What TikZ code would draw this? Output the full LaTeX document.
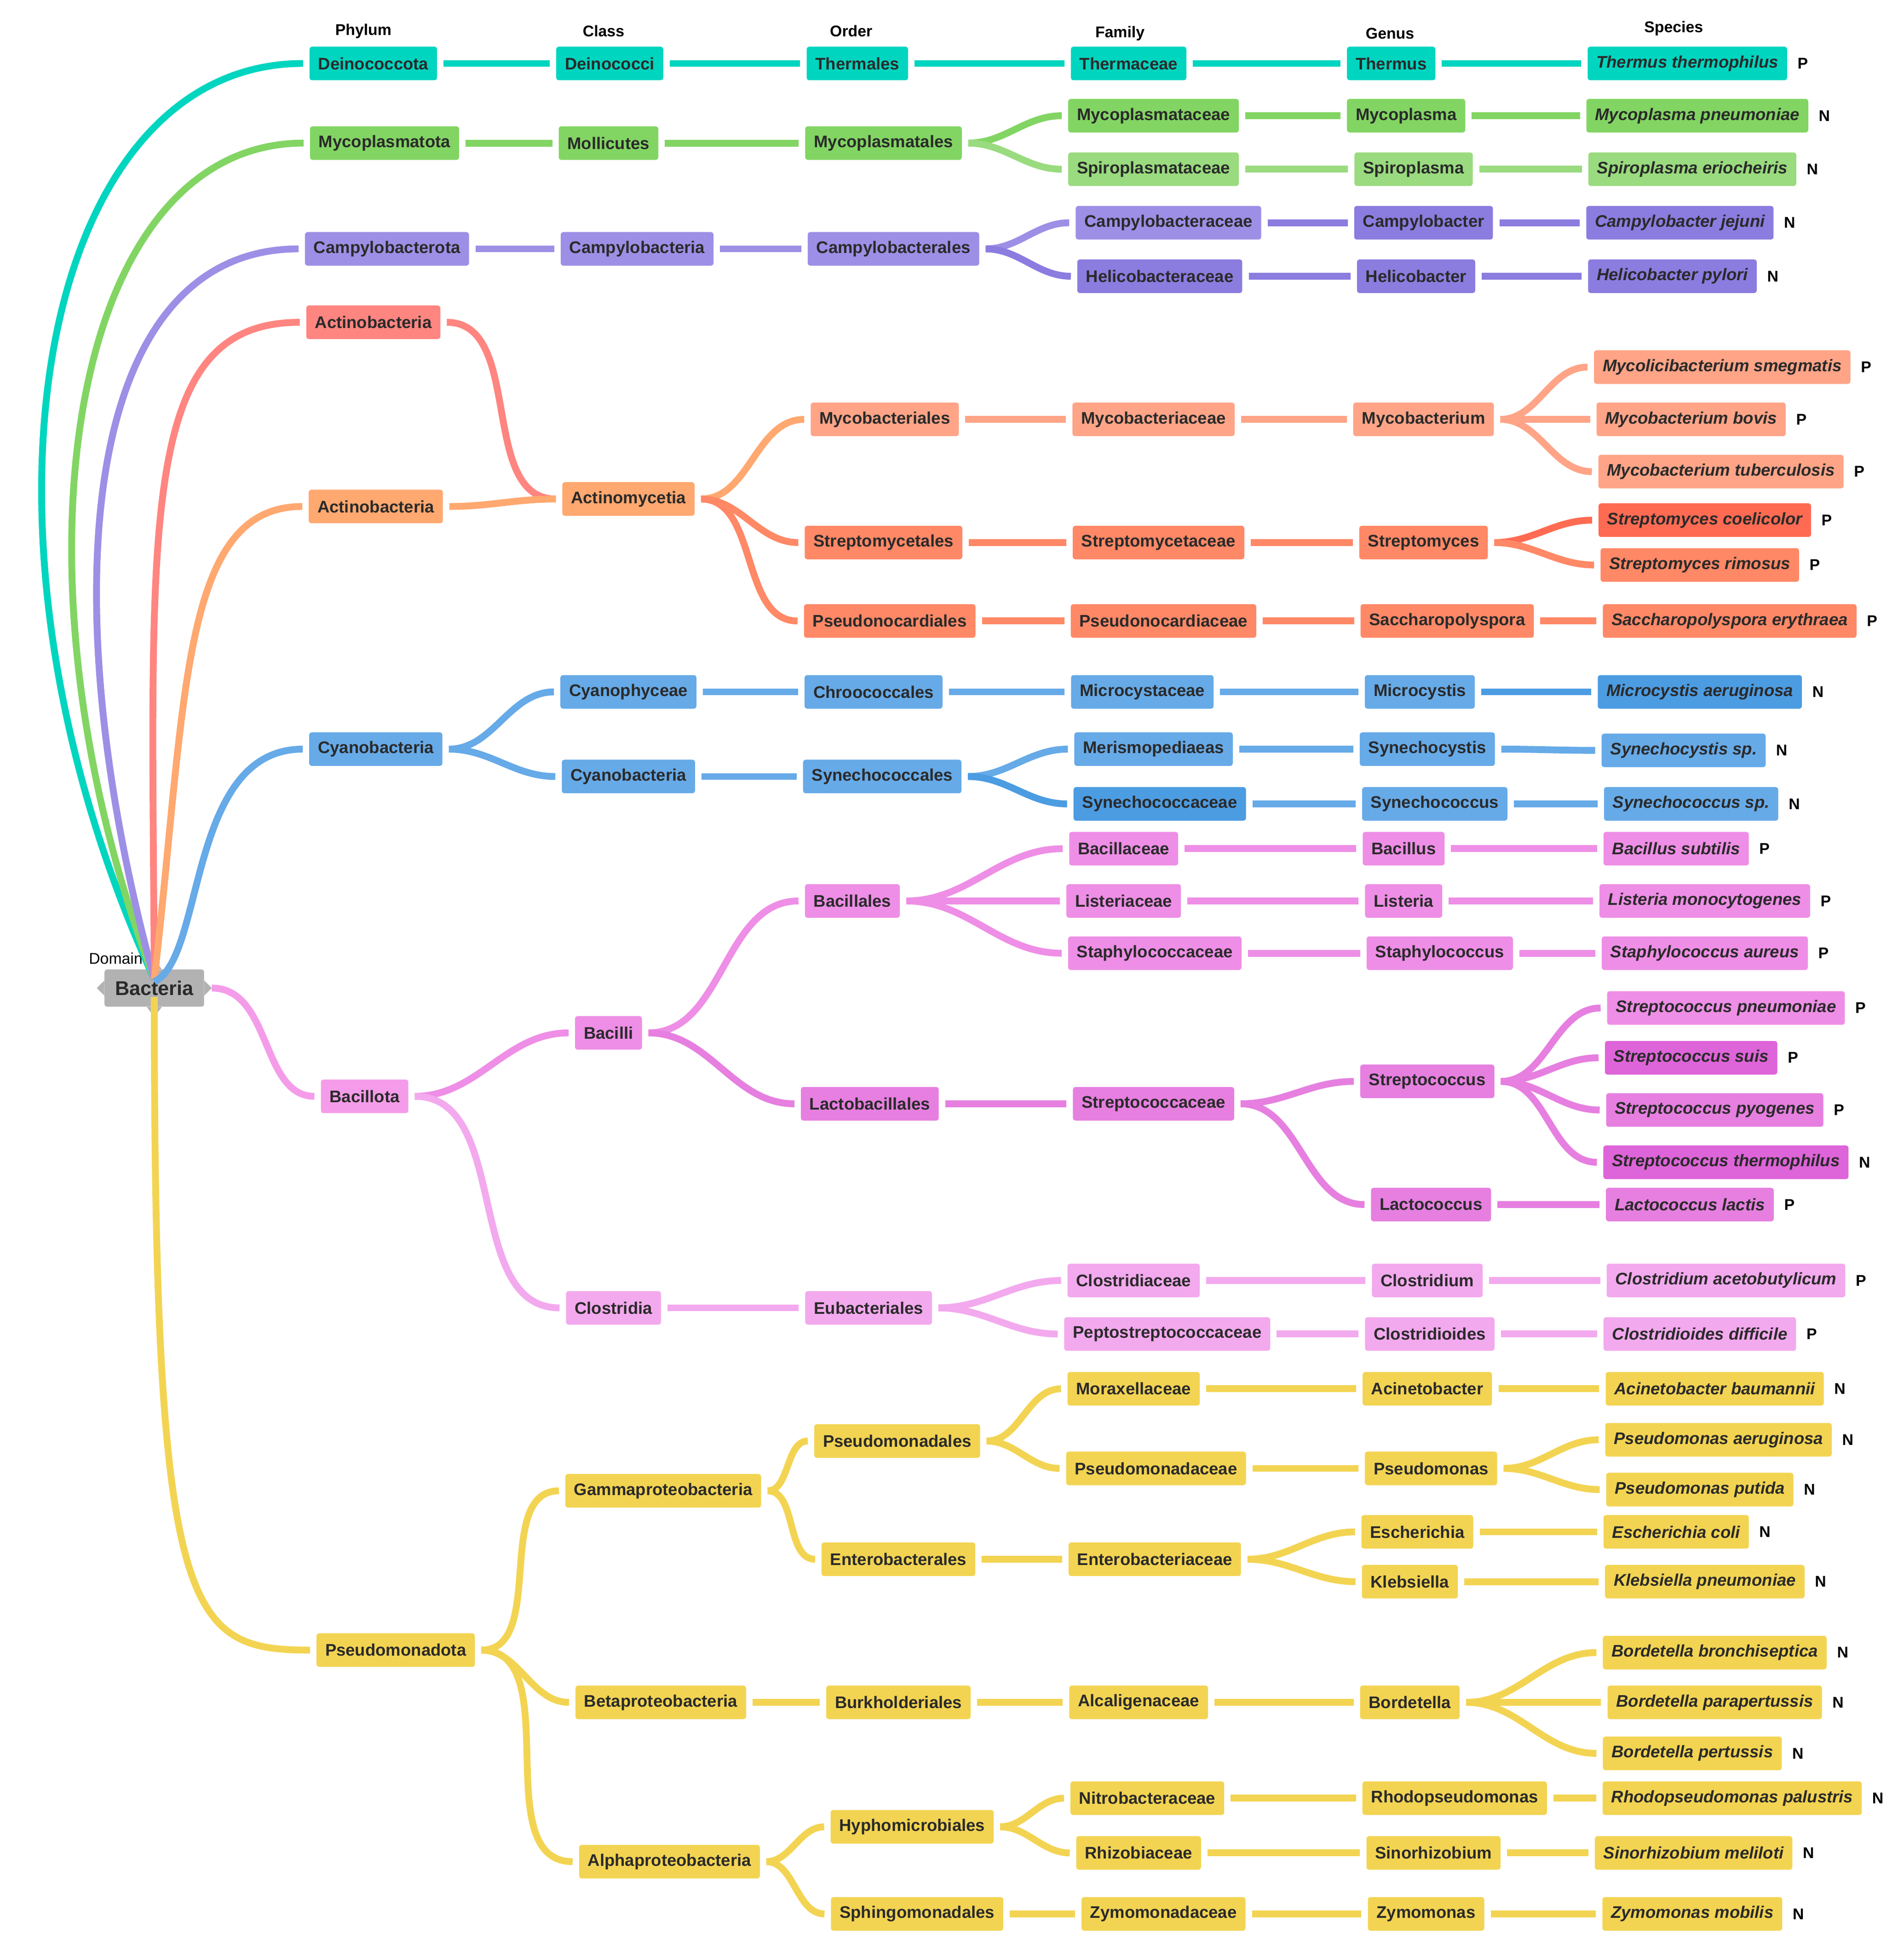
\documentclass[tikz,border=0pt]{standalone}
\usepackage{fontspec}
\setmainfont{Liberation Sans}
\begin{document}
\definecolor{teal}{HTML}{00D5C0}\definecolor{grn}{HTML}{82D563}\definecolor{grn2}{HTML}{99DB7E}
\definecolor{pur}{HTML}{9D8FE6}\definecolor{pur2}{HTML}{8B7CE0}\definecolor{red}{HTML}{FF8580}
\definecolor{org}{HTML}{FFA870}\definecolor{sal}{HTML}{FFA487}\definecolor{str}{HTML}{FF8866}
\definecolor{str2}{HTML}{FF6B52}\definecolor{blu}{HTML}{66AAE8}\definecolor{blu2}{HTML}{4C9CE2}
\definecolor{pnk}{HTML}{F49CE9}\definecolor{pnk2}{HTML}{EE8EE6}\definecolor{pnk3}{HTML}{E67FE0}
\definecolor{pnk4}{HTML}{DE64D9}\definecolor{pnk5}{HTML}{F3A9EE}\definecolor{yel}{HTML}{F3D452}
\definecolor{txt}{HTML}{2A2A2A}
\begin{tikzpicture}[x=1pt,y=-1pt,
 box/.style={rounded corners=2pt,inner xsep=7pt,inner ysep=0pt,minimum height=27pt,font=\fontsize{13.5}{15}\selectfont\bfseries,text=txt},
 sp/.style={box,font=\fontsize{13.5}{15}\selectfont\bfseries\itshape},
 hd/.style={font=\fontsize{12.5}{14}\selectfont\bfseries},
 lab/.style={anchor=west,font=\fontsize{12.5}{14}\selectfont\bfseries,inner sep=0pt,xshift=8pt},
 conn/.style={line width=5.5pt,shorten <=5pt,shorten >=5pt}]
\useasboundingbox (0,0) rectangle (1530,1563);
\fill[white] (0,0) rectangle (1530,1563);
\newcommand\lk[3]{\draw[conn,#1] (#2.east) to[out=0,in=180] (#3.west);}
\newcommand\sq[5]{\node[sp,fill=#1] (#2) at (#3) {#4}; \node[lab] at (#2.east) {#5};}
% headers
\node[hd] (h1) at (292,25) {Phylum};\node[hd] (h2) at (485,25) {Class};\node[hd] (h3) at (684,25) {Order};
\node[hd] (h4) at (900,27) {Family};\node[hd] (h5) at (1117,27) {Genus};\node[hd] (h6) at (1345,23) {Species};
\node[hd,font=\fontsize{12.5}{14}\selectfont] (h0) at (93,770) {Domain};
% Bacteria
\node[box,fill=black!30,minimum width=80pt,minimum height=30pt,font=\fontsize{16}{18}\selectfont\bfseries] (bac) at (124,794) {Bacteria};
\fill[black!30] (bac.north)++(-6,0) -- ++(6,-8) -- ++(6,8) -- cycle;
\fill[black!30] (bac.south)++(-6,0) -- ++(6,8) -- ++(6,-8) -- cycle;
\fill[black!30] (bac.west)++(0,-6) -- ++(-6,6) -- ++(6,6) -- cycle;
\fill[black!30] (bac.east)++(0,-6) -- ++(6,6) -- ++(-6,6) -- cycle;
% row 1
\node[box,fill=teal] (a1) at (300,51) {Deinococcota};
\node[box,fill=teal] (a2) at (490,51) {Deinococci};
\node[box,fill=teal] (a3) at (689,51) {Thermales};
\node[box,fill=teal] (a4) at (907,51) {Thermaceae};
\node[box,fill=teal] (a5) at (1118,51) {Thermus};
\sq{teal}{a6}{1356,51}{Thermus thermophilus}{P}
\lk{teal}{a1}{a2}\lk{teal}{a2}{a3}\lk{teal}{a3}{a4}\lk{teal}{a4}{a5}\lk{teal}{a5}{a6}
% row 2
\node[box,fill=grn] (b1) at (309,115) {Mycoplasmatota};
\node[box,fill=grn] (b2) at (489,115) {Mollicutes};
\node[box,fill=grn] (b3) at (710,115) {Mycoplasmatales};
\node[box,fill=grn] (b4) at (927,93) {Mycoplasmataceae};
\node[box,fill=grn] (b5) at (1130,93) {Mycoplasma};
\sq{grn}{b6}{1364,93}{Mycoplasma pneumoniae}{N}
\node[box,fill=grn2] (b7) at (927,136) {Spiroplasmataceae};
\node[box,fill=grn2] (b8) at (1136,136) {Spiroplasma};
\sq{grn2}{b9}{1360,136}{Spiroplasma eriocheiris}{N}
\lk{grn}{b1}{b2}\lk{grn}{b2}{b3}\lk{grn}{b3}{b4}\lk{grn}{b4}{b5}\lk{grn}{b5}{b6}
\lk{grn2}{b3}{b7}\lk{grn2}{b7}{b8}\lk{grn2}{b8}{b9}
% row 3
\node[box,fill=pur] (c1) at (311,200) {Campylobacterota};
\node[box,fill=pur] (c2) at (512,200) {Campylobacteria};
\node[box,fill=pur] (c3) at (718,200) {Campylobacterales};
\node[box,fill=pur] (c4) at (939,179) {Campylobacteraceae};
\node[box,fill=pur2] (c5) at (1144,179) {Campylobacter};
\sq{pur2}{c6}{1350,179}{Campylobacter jejuni}{N}
\node[box,fill=pur2] (c7) at (932,222) {Helicobacteraceae};
\node[box,fill=pur2] (c8) at (1138,222) {Helicobacter};
\sq{pur2}{c9}{1344,222}{Helicobacter pylori}{N}
\lk{pur}{c1}{c2}\lk{pur}{c2}{c3}\lk{pur}{c3}{c4}\lk{pur2}{c4}{c5}\lk{pur2}{c5}{c6}
\lk{pur2}{c3}{c7}\lk{pur2}{c7}{c8}\lk{pur2}{c8}{c9}
% Actino
\node[box,fill=red] (d1) at (300,259) {Actinobacteria};
\node[box,fill=org] (d2) at (302,407) {Actinobacteria};
\node[box,fill=org] (d3) at (505,401) {Actinomycetia};
\node[box,fill=sal] (d4) at (711,337) {Mycobacteriales};
\node[box,fill=str] (d5) at (710,436) {Streptomycetales};
\node[box,fill=str] (d6) at (715,499) {Pseudonocardiales};
\node[box,fill=sal] (d7) at (927,337) {Mycobacteriaceae};
\node[box,fill=sal] (d8) at (1144,337) {Mycobacterium};
\sq{sal}{d9}{1384,295}{Mycolicibacterium smegmatis}{P}
\sq{sal}{d10}{1359,337}{Mycobacterium bovis}{P}
\sq{sal}{d11}{1383,379}{Mycobacterium tuberculosis}{P}
\node[box,fill=str] (d12) at (931,436) {Streptomycetaceae};
\node[box,fill=str] (d13) at (1144,436) {Streptomyces};
\sq{str2}{d14}{1370,418}{Streptomyces coelicolor}{P}
\sq{str}{d15}{1366,454}{Streptomyces rimosus}{P}
\node[box,fill=str] (d16) at (935,499) {Pseudonocardiaceae};
\node[box,fill=str] (d17) at (1163,499) {Saccharopolyspora};
\sq{str}{d18}{1390,499}{Saccharopolyspora erythraea}{P}
\lk{red}{d1}{d3}\lk{org}{d2}{d3}\lk{org}{d3}{d4}\lk{str}{d3}{d5}\lk{str}{d3}{d6}
\lk{sal}{d4}{d7}\lk{sal}{d7}{d8}\lk{sal}{d8}{d9}\lk{sal}{d8}{d10}\lk{sal}{d8}{d11}
\lk{str}{d5}{d12}\lk{str}{d12}{d13}\lk{str2}{d13}{d14}\lk{str}{d13}{d15}
\lk{str}{d6}{d16}\lk{str}{d16}{d17}\lk{str}{d17}{d18}
% Cyano
\node[box,fill=blu] (e1) at (302,602) {Cyanobacteria};
\node[box,fill=blu] (e2) at (505,556) {Cyanophyceae};
\node[box,fill=blu] (e3) at (505,624) {Cyanobacteria};
\node[box,fill=blu] (e4) at (702,556) {Chroococcales};
\node[box,fill=blu] (e5) at (918,556) {Microcystaceae};
\node[box,fill=blu] (e6) at (1141,556) {Microcystis};
\sq{blu2}{e7}{1366,556}{Microcystis aeruginosa}{N}
\node[box,fill=blu] (e8) at (709,624) {Synechococcales};
\node[box,fill=blu] (e9) at (927,602) {Merismopediaeas};
\node[box,fill=blu] (e10) at (1147,602) {Synechocystis};
\sq{blu}{e11}{1353,603}{Synechocystis sp.}{N}
\node[box,fill=blu2] (e12) at (932,646) {Synechococcaceae};
\node[box,fill=blu] (e13) at (1153,646) {Synechococcus};
\sq{blu}{e14}{1359,646}{Synechococcus sp.}{N}
\lk{blu}{e1}{e2}\lk{blu}{e1}{e3}\lk{blu}{e2}{e4}\lk{blu}{e4}{e5}\lk{blu}{e5}{e6}\lk{blu2}{e6}{e7}
\lk{blu}{e3}{e8}\lk{blu}{e8}{e9}\lk{blu}{e9}{e10}\lk{blu}{e10}{e11}
\lk{blu2}{e8}{e12}\lk{blu}{e12}{e13}\lk{blu}{e13}{e14}
% Bacillota
\node[box,fill=pnk] (f1) at (293,881) {Bacillota};
\node[box,fill=pnk2] (f2) at (489,830) {Bacilli};
\node[box,fill=pnk2] (f3) at (685,724) {Bacillales};
\node[box,fill=pnk2] (f4) at (903,682) {Bacillaceae};
\node[box,fill=pnk2] (f5) at (1128,682) {Bacillus};
\sq{pnk2}{f6}{1347,682}{Bacillus subtilis}{P}
\node[box,fill=pnk2] (f7) at (903,724) {Listeriaceae};
\node[box,fill=pnk2] (f8) at (1128,724) {Listeria};
\sq{pnk2}{f9}{1370,724}{Listeria monocytogenes}{P}
\node[box,fill=pnk2] (f10) at (928,766) {Staphylococcaceae};
\node[box,fill=pnk2] (f11) at (1157,766) {Staphylococcus};
\sq{pnk2}{f12}{1370,766}{Staphylococcus aureus}{P}
\node[box,fill=pnk3] (f13) at (699,887) {Lactobacillales};
\node[box,fill=pnk3] (f14) at (927,887) {Streptococcaceae};
\node[box,fill=pnk3] (f15) at (1147,869) {Streptococcus};
\sq{pnk2}{f16}{1387,810}{Streptococcus pneumoniae}{P}
\sq{pnk4}{f17}{1359,850}{Streptococcus suis}{P}
\sq{pnk3}{f18}{1378,892}{Streptococcus pyogenes}{P}
\sq{pnk4}{f19}{1387,934}{Streptococcus thermophilus}{N}
\node[box,fill=pnk3] (f20) at (1150,968) {Lactococcus};
\sq{pnk3}{f21}{1358,968}{Lactococcus lactis}{P}
\node[box,fill=pnk5] (f22) at (493,1051) {Clostridia};
\node[box,fill=pnk5] (f23) at (698,1051) {Eubacteriales};
\node[box,fill=pnk5] (f24) at (911,1029) {Clostridiaceae};
\node[box,fill=pnk5] (f25) at (1147,1029) {Clostridium};
\sq{pnk5}{f26}{1387,1029}{Clostridium acetobutylicum}{P}
\node[box,fill=pnk5] (f27) at (938,1072) {Peptostreptococcaceae};
\node[box,fill=pnk5] (f28) at (1149,1072) {Clostridioides};
\sq{pnk5}{f29}{1366,1072}{Clostridioides difficile}{P}
\lk{pnk2}{f1}{f2}\lk{pnk5}{f1}{f22}\lk{pnk2}{f2}{f3}\lk{pnk3}{f2}{f13}
\lk{pnk2}{f3}{f4}\lk{pnk2}{f4}{f5}\lk{pnk2}{f5}{f6}
\lk{pnk2}{f3}{f7}\lk{pnk2}{f7}{f8}\lk{pnk2}{f8}{f9}
\lk{pnk2}{f3}{f10}\lk{pnk2}{f10}{f11}\lk{pnk2}{f11}{f12}
\lk{pnk3}{f13}{f14}\lk{pnk3}{f14}{f15}\lk{pnk3}{f14}{f20}
\lk{pnk3}{f15}{f16}\lk{pnk3}{f15}{f17}\lk{pnk3}{f15}{f18}\lk{pnk3}{f15}{f19}\lk{pnk3}{f20}{f21}
\lk{pnk5}{f22}{f23}\lk{pnk5}{f23}{f24}\lk{pnk5}{f24}{f25}\lk{pnk5}{f25}{f26}
\lk{pnk5}{f23}{f27}\lk{pnk5}{f27}{f28}\lk{pnk5}{f28}{f29}
% Pseudomonadota
\node[box,fill=yel] (g1) at (318,1326) {Pseudomonadota};
\node[box,fill=yel] (g2) at (533,1198) {Gammaproteobacteria};
\node[box,fill=yel] (g3) at (531,1368) {Betaproteobacteria};
\node[box,fill=yel] (g4) at (538,1496) {Alphaproteobacteria};
\node[box,fill=yel] (g5) at (721,1158) {Pseudomonadales};
\node[box,fill=yel] (g6) at (722,1253) {Enterobacterales};
\node[box,fill=yel] (g7) at (911,1116) {Moraxellaceae};
\node[box,fill=yel] (g8) at (1147,1116) {Acinetobacter};
\sq{yel}{g9}{1378,1116}{Acinetobacter baumannii}{N}
\node[box,fill=yel] (g10) at (929,1180) {Pseudomonadaceae};
\node[box,fill=yel] (g11) at (1150,1180) {Pseudomonas};
\sq{yel}{g12}{1381,1157}{Pseudomonas aeruginosa}{N}
\sq{yel}{g13}{1366,1197}{Pseudomonas putida}{N}
\node[box,fill=yel] (g14) at (928,1253) {Enterobacteriaceae};
\node[box,fill=yel] (g15) at (1139,1231) {Escherichia};
\sq{yel}{g16}{1347,1231}{Escherichia coli}{N}
\node[box,fill=yel] (g17) at (1133,1271) {Klebsiella};
\sq{yel}{g18}{1370,1271}{Klebsiella pneumoniae}{N}
\node[box,fill=yel] (g19) at (722,1368) {Burkholderiales};
\node[box,fill=yel] (g20) at (915,1368) {Alcaligenaceae};
\node[box,fill=yel] (g21) at (1133,1368) {Bordetella};
\sq{yel}{g22}{1378,1328}{Bordetella bronchiseptica}{N}
\sq{yel}{g23}{1378,1368}{Bordetella parapertussis}{N}
\sq{yel}{g24}{1360,1409}{Bordetella pertussis}{N}
\node[box,fill=yel] (g25) at (733,1468) {Hyphomicrobiales};
\node[box,fill=yel] (g26) at (737,1538) {Sphingomonadales};
\node[box,fill=yel] (g27) at (922,1445) {Nitrobacteraceae};
\node[box,fill=yel] (g28) at (1169,1445) {Rhodopseudomonas};
\sq{yel}{g29}{1392,1445}{Rhodopseudomonas palustris}{N}
\node[box,fill=yel] (g30) at (915,1489) {Rhizobiaceae};
\node[box,fill=yel] (g31) at (1152,1489) {Sinorhizobium};
\sq{yel}{g32}{1361,1489}{Sinorhizobium meliloti}{N}
\node[box,fill=yel] (g33) at (935,1538) {Zymomonadaceae};
\node[box,fill=yel] (g34) at (1146,1538) {Zymomonas};
\sq{yel}{g35}{1360,1538}{Zymomonas mobilis}{N}
\foreach \a/\b in {g1/g2,g1/g3,g1/g4,g2/g5,g2/g6,g5/g7,g7/g8,g8/g9,g5/g10,g10/g11,g11/g12,g11/g13,
 g6/g14,g14/g15,g15/g16,g14/g17,g17/g18,g3/g19,g19/g20,g20/g21,g21/g22,g21/g23,g21/g24,
 g4/g25,g4/g26,g25/g27,g27/g28,g28/g29,g25/g30,g30/g31,g31/g32,g26/g33,g33/g34,g34/g35}
 {\lk{yel}{\a}{\b}}
% domain connectors
\draw[conn,teal,shorten <=0pt] ([yshift=-8pt]bac.north) .. controls (-40,430) and (30,51) .. (a1.west);
\draw[conn,grn,shorten <=0pt] ([yshift=-8pt]bac.north) .. controls (0,460) and (55,115) .. (b1.west);
\draw[conn,pur,shorten <=0pt] ([yshift=-8pt]bac.north) .. controls (40,480) and (65,200) .. (c1.west);
\draw[conn,red,shorten <=0pt] ([yshift=-8pt]bac.north) .. controls (122,420) and (110,259) .. (d1.west);
\draw[conn,org,shorten <=0pt] ([yshift=-8pt]bac.north) .. controls (150,560) and (145,407) .. (d2.west);
\draw[conn,blu,shorten <=0pt] ([yshift=-10pt]bac.north) .. controls (165,770) and (150,602) .. (e1.west);
\draw[conn,pnk,shorten <=0pt] ([xshift=6pt]bac.east) to[out=0,in=180] (f1.west);
\draw[conn,yel,shorten <=0pt] ([yshift=8pt]bac.south) .. controls (124,1300) and (150,1326) .. (g1.west);
\end{tikzpicture}
\end{document}
